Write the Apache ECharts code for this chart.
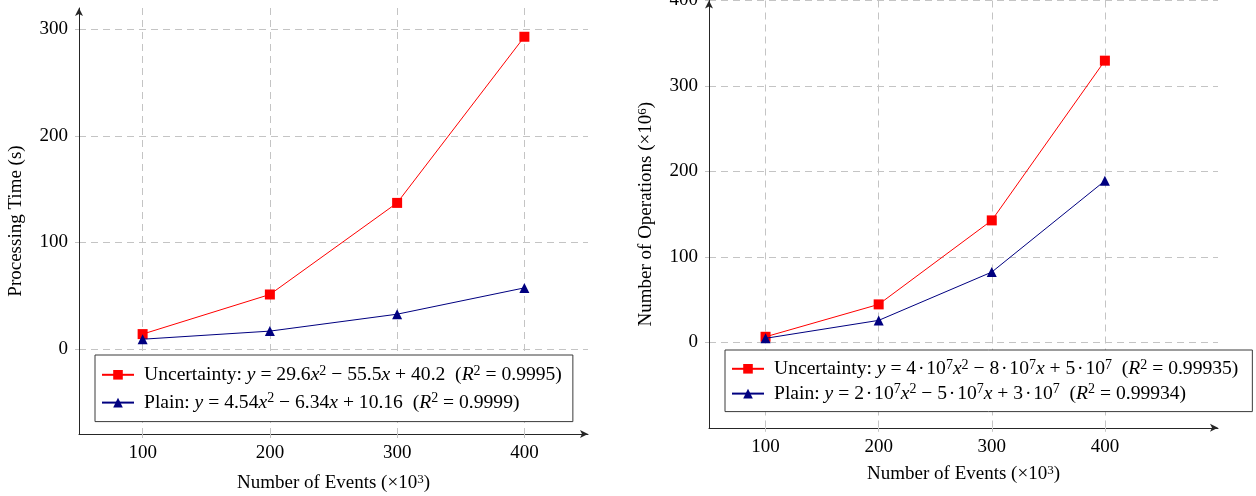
<!DOCTYPE html>
<html>
<head>
<meta charset="utf-8">
<script src="https://cdn.jsdelivr.net/npm/echarts@6/dist/echarts.min.js"></script>
<style>
  html, body { margin: 0; padding: 0; background: #fff; }
  #chart { width: 1256px; height: 496px; }
</style>
</head>
<body>
<div id="chart"></div>
<script>
// Number of events (×10^3) on the x axis of both panels
const events = [100, 200, 300, 400];

// Left panel: processing time in seconds
const timeUncertainty = [13.8, 51, 137, 293];
const timePlain = [9, 16.6, 32.5, 57.2];

// Right panel: number of operations (×10^6)
const opsUncertainty = [6.5, 44.4, 142.7, 329.6];
const opsPlain = [4.7, 25.7, 82.2, 189];

// Tick labels
const eventTicks = [100, 200, 300, 400];
const timeTicks = [0, 100, 200, 300];
const opsTicks = [0, 100, 200, 300, 400];

// Legend entries (rich text: t = roman, i = italic, s = superscript,
// d = centred dot, g = gap after the icon)
const timeLegend = [
  '{g|}{t|Uncertainty: }{i|y}{t| = 29.6}{i|x}{s|2}{t| − 55.5}{i|x}{t| + 40.2  (}{i|R}{s|2}{t| = 0.9995)}',
  '{g|}{t|Plain: }{i|y}{t| = 4.54}{i|x}{s|2}{t| − 6.34}{i|x}{t| + 10.16  (}{i|R}{s|2}{t| = 0.9999)}'
];
const opsLegend = [
  '{g|}{t|Uncertainty: }{i|y}{t| = 4}{d|·}{t|10}{s|7}{i|x}{s|2}{t| − 8}{d|·}{t|10}{s|7}{i|x}{t| + 5}{d|·}{t|10}{s|7}{t|  (}{i|R}{s|2}{t| = 0.99935)}',
  '{g|}{t|Plain: }{i|y}{t| = 2}{d|·}{t|10}{s|7}{i|x}{s|2}{t| − 5}{d|·}{t|10}{s|7}{i|x}{t| + 3}{d|·}{t|10}{s|7}{t|  (}{i|R}{s|2}{t| = 0.99934)}'
];

const FONT = '"Liberation Serif", "DejaVu Serif", serif';
const RED = '#ff0000';
const NAVY = '#000080';
const AXIS = '#262626';
const GRID = '#c4c4c4';

function richFor(size) {
  const sup = Math.round(size * 0.7);
  return {
    t: { fontFamily: FONT, fontSize: size, color: '#000', lineHeight: size + 2 },
    i: { fontFamily: FONT, fontSize: size, color: '#000', fontStyle: 'italic', lineHeight: size + 2 },
    d: { fontFamily: FONT, fontSize: size, color: '#000', lineHeight: size + 2, padding: [0, 1.8, 0, 1.8] },
    s: { fontFamily: FONT, fontSize: sup, color: '#000', verticalAlign: 'top', lineHeight: sup - 4 },
    g: { width: 5 }
  };
}
const axisRich = richFor(19);
const legendRich = richFor(19.6);

function pairs(xs, ys) { return xs.map((x, k) => [x, ys[k]]); }

function xAxisFor(gridIndex, min, max, gap) {
  return {
    type: 'value', gridIndex, min, max,
    name: '{t|Number of Events (×10}{s|3}{t|)}',
    nameLocation: 'middle', nameGap: gap,
    nameTextStyle: { rich: axisRich },
    axisLine: { show: true, lineStyle: { color: AXIS, width: 1 }, symbol: ['none', 'arrow'], symbolSize: [6, 8], onZero: false },
    axisTick: { show: true, length: 4, lineStyle: { color: GRID }, customValues: eventTicks },
    axisLabel: { fontFamily: FONT, fontSize: 19, color: '#000', margin: 10, customValues: eventTicks },
    splitLine: { show: true, lineStyle: { color: GRID, type: [7, 5], width: 1 } }
  };
}

function yAxisFor(gridIndex, min, max, ticks, name) {
  return {
    type: 'value', gridIndex, min, max,
    name, nameLocation: 'middle', nameGap: 52,
    nameTextStyle: { rich: axisRich },
    axisLine: { show: true, lineStyle: { color: AXIS, width: 1 }, symbol: ['none', 'arrow'], symbolSize: [6, 8], onZero: false },
    axisTick: { show: true, length: 4, lineStyle: { color: GRID }, customValues: ticks },
    axisLabel: { fontFamily: FONT, fontSize: 19, color: '#000', margin: 11, customValues: ticks },
    splitLine: { show: true, lineStyle: { color: GRID, type: [7, 5], width: 1 } }
  };
}

function lineSeries(name, idx, data, color, symbol) {
  return {
    type: 'line', name, xAxisIndex: idx, yAxisIndex: idx,
    data, symbol, symbolSize: 10,
    showAllSymbol: true,
    lineStyle: { color, width: 1 },
    itemStyle: { color },
    z: symbol === 'rect' ? 3 : 4
  };
}

function legendFor(names, left, top, gap, pad) {
  return {
    data: names, left, top, orient: 'vertical', align: 'left',
    itemWidth: 32, itemHeight: 12, itemGap: gap,
    padding: pad,
    borderColor: '#3a3a3a', borderWidth: 1, backgroundColor: '#fff',
    textStyle: { rich: legendRich },
    formatter: n => n,
    selectedMode: false
  };
}

const chart = echarts.init(document.getElementById('chart'), null, { renderer: 'canvas' });
chart.setOption({
  animation: false,
  backgroundColor: '#fff',
  grid: [
    { left: 79, top: 8, width: 509, height: 426, containLabel: false, outerBoundsMode: 'none' },
    { left: 709, top: 0.5, width: 509, height: 427.3, containLabel: false, outerBoundsMode: 'none' }
  ],
  xAxis: [xAxisFor(0, 50, 450, 39), xAxisFor(1, 50, 500, 36)],
  yAxis: [
    yAxisFor(0, -80, 320, timeTicks, '{t|Processing Time (s)}'),
    yAxisFor(1, -100, 400, opsTicks, '{t|Number of Operations (×10}{s|6}{t|)}')
  ],
  legend: [
    legendFor(timeLegend, 95, 355, 7, [9, 11, 9, 6]),
    legendFor(opsLegend, 725, 350, 4, [8, 14, 8, 6])
  ],
  series: [
    lineSeries(timeLegend[0], 0, pairs(events, timeUncertainty), RED, 'rect'),
    lineSeries(timeLegend[1], 0, pairs(events, timePlain), NAVY, 'triangle'),
    lineSeries(opsLegend[0], 1, pairs(events, opsUncertainty), RED, 'rect'),
    lineSeries(opsLegend[1], 1, pairs(events, opsPlain), NAVY, 'triangle')
  ]
});
</script>
</body>
</html>
